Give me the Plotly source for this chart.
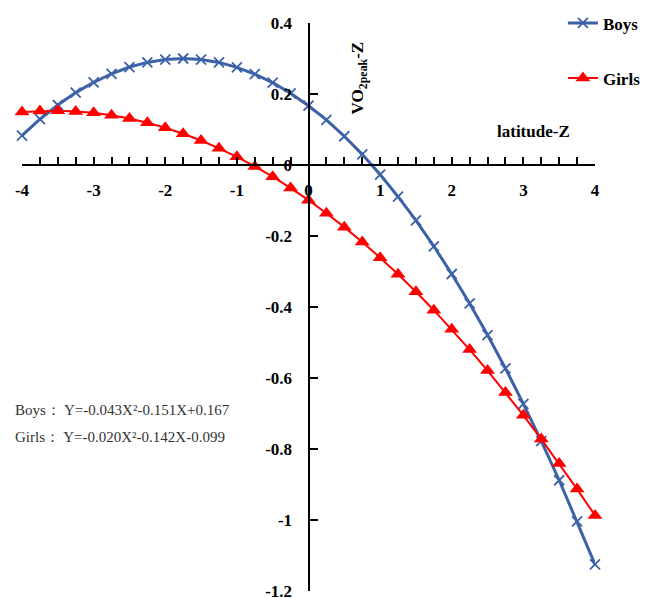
import plotly.graph_objects as go

x_vals = [-4, -3.75, -3.5, -3.25, -3, -2.75, -2.5, -2.25, -2, -1.75, -1.5, -1.25, -1, -0.75, -0.5, -0.25,
          0, 0.25, 0.5, 0.75, 1, 1.25, 1.5, 1.75, 2, 2.25, 2.5, 2.75, 3, 3.25, 3.5, 3.75, 4]
boys = [0.083, 0.129, 0.169, 0.204, 0.233, 0.257, 0.276, 0.289, 0.297, 0.300, 0.297, 0.289, 0.275, 0.256, 0.232, 0.202,
        0.167, 0.127, 0.081, 0.030, -0.027, -0.089, -0.156, -0.229, -0.307, -0.390, -0.479, -0.573, -0.673, -0.778, -0.888, -1.004, -1.125]
girls = [0.149, 0.152, 0.153, 0.151, 0.147, 0.140, 0.131, 0.119, 0.105, 0.088, 0.069, 0.047, 0.023, -0.004, -0.033, -0.065,
         -0.099, -0.136, -0.175, -0.217, -0.261, -0.308, -0.357, -0.409, -0.463, -0.520, -0.579, -0.641, -0.705, -0.772, -0.841, -0.913, -0.987]

x_ticks = [-4, -3, -2, -1, 0, 1, 2, 3, 4]
x_ticktext = ["-4", "-3", "-2", "-1", "0", "1", "2", "3", "4"]
x_minor_ticks = x_vals
y_ticks = [0.4, 0.2, 0, -0.2, -0.4, -0.6, -0.8, -1, -1.2]
y_ticktext = ["0.4", "0.2", "0", "-0.2", "-0.4", "-0.6", "-0.8", "-1", "-1.2"]

# all x ticks every 0.25, labelled only at integers
label_map = dict(zip(x_ticks, x_ticktext))
x_all_ticks = x_minor_ticks
x_all_text = [label_map.get(v, "") for v in x_all_ticks]

BLUE = "#3b62a6"
RED = "#ff0000"
SERIF = "Liberation Serif"

fig = go.Figure()
fig.add_trace(go.Scatter(
    x=x_vals, y=boys, name="Boys", mode="lines+markers", legendgroup="b",
    line=dict(color=BLUE, width=3),
    marker=dict(symbol="x-thin", size=10, line=dict(color=BLUE, width=1.8)),
    cliponaxis=False,
))
fig.add_trace(go.Scatter(
    x=x_vals, y=girls, name="Girls", mode="lines+markers", legendgroup="g",
    line=dict(color=RED, width=2),
    marker=dict(symbol="triangle-up", size=13, color=RED),
    cliponaxis=False,
))

tickfont = dict(family=SERIF, size=17, color="black", weight="bold")

fig.update_layout(
    width=649, height=598,
    margin=dict(l=14, r=62, t=15, b=15, autoexpand=False),
    paper_bgcolor="white", plot_bgcolor="white",
    showlegend=True,
    legend=dict(x=0.944, y=1.031, xanchor="left", yanchor="top",
                font=dict(family=SERIF, size=17, color="black", weight="bold"),
                traceorder="grouped", tracegroupgap=30, bgcolor="rgba(0,0,0,0)"),
    xaxis=dict(range=[-4, 4], anchor="free", position=0.75,
               showgrid=False, zeroline=False, showline=True, linecolor="black", linewidth=2,
               tickmode="array", tickvals=x_all_ticks, ticktext=x_all_text, ticks="inside", ticklen=7, tickwidth=2,
               tickcolor="black", tickfont=tickfont, ticklabelstandoff=10),
    yaxis=dict(range=[-1.2, 0.4], anchor="free", position=0.5,
               showgrid=False, zeroline=False, showline=True, linecolor="black", linewidth=2,
               tickvals=y_ticks, ticktext=y_ticktext, ticks="inside", ticklen=8, tickwidth=2,
               tickcolor="black", tickfont=tickfont, ticklabelstandoff=12),
)

fig.add_annotation(x=0.71, y=0.245, xref="x", yref="y", text="VO<sub>2peak</sub>-Z", textangle=-90,
                   showarrow=False, font=dict(family=SERIF, size=17, color="black", weight="bold"))
fig.add_annotation(x=3.14, y=0.093, xref="x", yref="y", text="latitude-Z",
                   showarrow=False, font=dict(family=SERIF, size=17, color="black", weight="bold"))
fig.add_annotation(x=-0.015, y=0.301, xref="paper", yref="paper", xanchor="left",
                   text="Boys： Y=-0.043X²-0.151X+0.167",
                   showarrow=False, font=dict(family=SERIF, size=15, color="#333333"))
fig.add_annotation(x=-0.015, y=0.253, xref="paper", yref="paper", xanchor="left",
                   text="Girls： Y=-0.020X²-0.142X-0.099",
                   showarrow=False, font=dict(family=SERIF, size=15, color="#333333"))

fig.write_html("out.html")
